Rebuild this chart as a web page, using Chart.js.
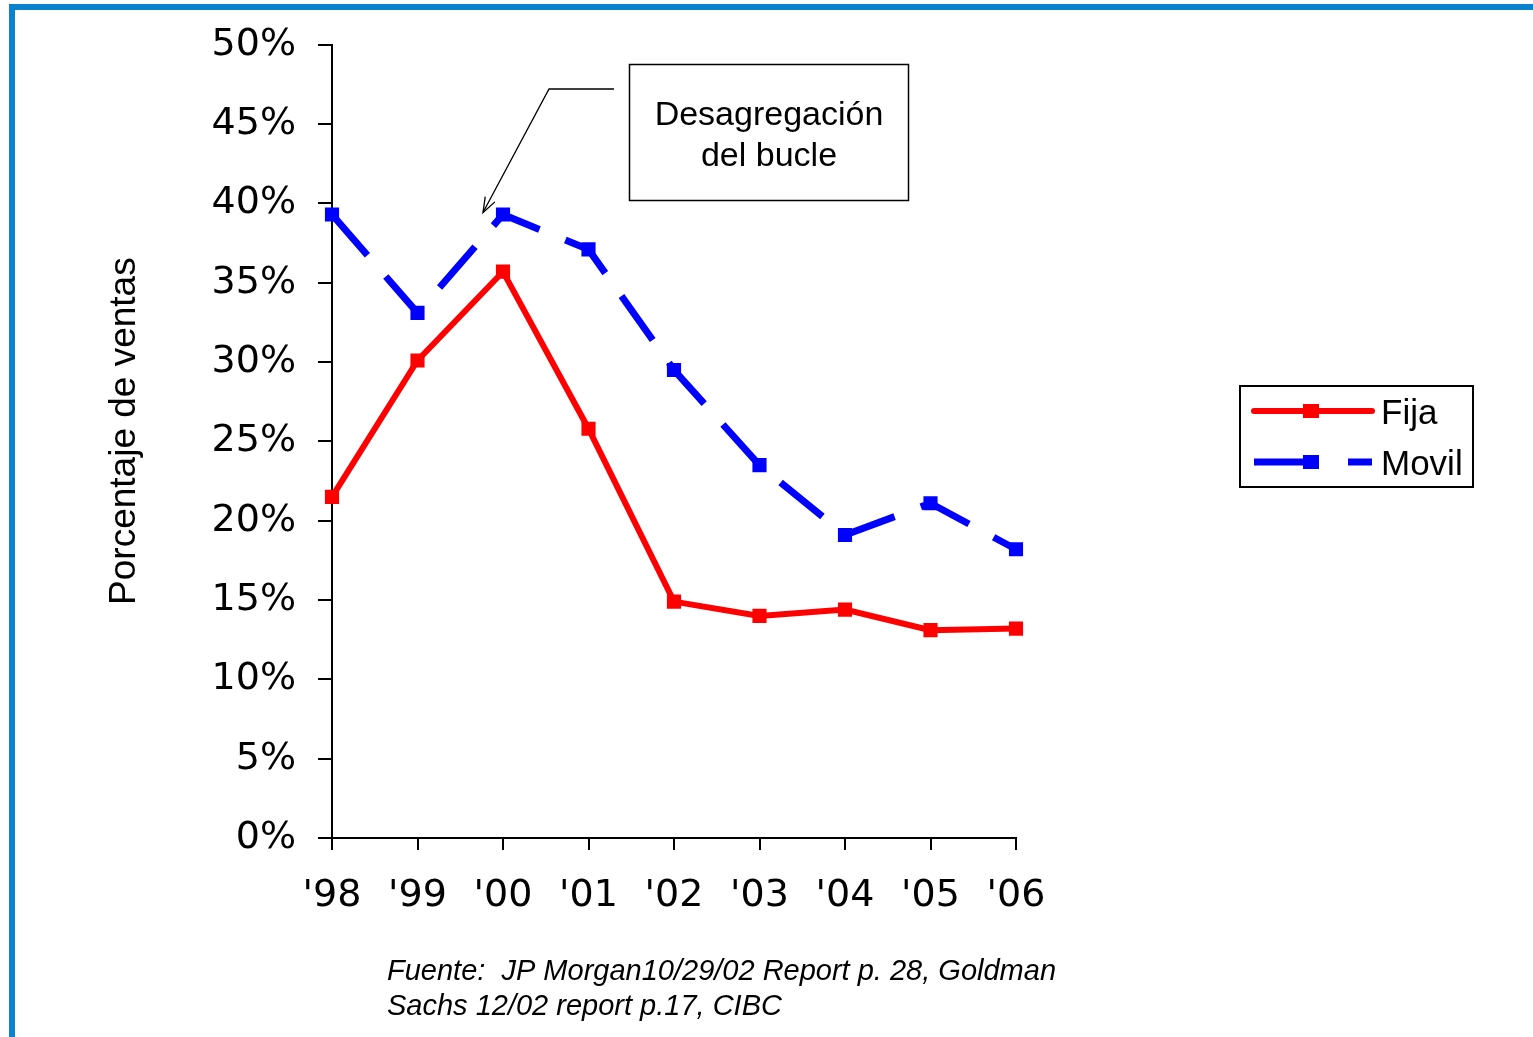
<!DOCTYPE html>
<html>
<head>
<meta charset="utf-8">
<script src="https://cdn.jsdelivr.net/npm/chart.js@4.4.0/dist/chart.umd.min.js"></script>
<style>
  body { margin: 0; background: #fff; }
  canvas { display: block; }
</style>
</head>
<body>
<canvas id="ventasChart" width="1533" height="1037"></canvas>
<script>
// datos
const years = ["'98", "'99", "'00", "'01", "'02", "'03", "'04", "'05", "'06"];
const fija = [21.5, 30.1, 35.7, 25.8, 14.9, 14.0, 14.4, 13.1, 13.2];
const movil = [39.3, 33.1, 39.3, 37.1, 29.5, 23.5, 19.1, 21.1, 18.2];
const yTicks = [0, 5, 10, 15, 20, 25, 30, 35, 40, 45, 50];
const notaLineas = ['Desagregación', 'del bucle'];
const fuenteLineas = ['Fuente:  JP Morgan10/29/02 Report p. 28, Goldman', 'Sachs 12/02 report p.17, CIBC'];

////////////////////// marco, nota, leyenda y fuente //////////////////////
const extras = {
  id: 'extras',
  beforeDraw(chart) {
    const ctx = chart.ctx;
    ctx.save();
    ctx.fillStyle = '#fff';
    ctx.fillRect(0, 0, chart.width, chart.height);
    ctx.fillStyle = '#0a82cf';
    ctx.fillRect(9, 4, chart.width, 6);
    ctx.fillRect(9, 4, 6, chart.height);
    ctx.restore();
  },
  afterDraw(chart) {
    const ctx = chart.ctx;
    const x = chart.scales.x, y = chart.scales.y;
    ctx.save();

    // caja de la nota
    ctx.strokeStyle = '#000';
    ctx.lineWidth = 1.5;
    ctx.strokeRect(629.5, 64.5, 279, 136);
    ctx.fillStyle = '#000';
    ctx.font = '34px "Liberation Sans", Arial, sans-serif';
    ctx.textAlign = 'center';
    ctx.textBaseline = 'alphabetic';
    ctx.fillText(notaLineas[0], 769, 125);
    ctx.fillText(notaLineas[1], 769, 166);

    // flecha hacia el punto '00
    const tipX = x.getPixelForValue(2) - 20;
    const tipY = y.getPixelForValue(movil[2]) - 2;
    ctx.lineWidth = 1.3;
    ctx.beginPath();
    ctx.moveTo(614, 89);
    ctx.lineTo(549, 89);
    ctx.lineTo(tipX, tipY);
    ctx.stroke();
    const ang = Math.atan2(tipY - 89, tipX - 549);
    ctx.beginPath();
    ctx.moveTo(tipX - 16 * Math.cos(ang - 0.35), tipY - 16 * Math.sin(ang - 0.35));
    ctx.lineTo(tipX, tipY);
    ctx.lineTo(tipX - 16 * Math.cos(ang + 0.35), tipY - 16 * Math.sin(ang + 0.35));
    ctx.stroke();

    // leyenda
    ctx.lineWidth = 2;
    ctx.strokeRect(1240, 386, 233, 101);
    const filas = [411, 462];
    chart.data.datasets.forEach(function (ds, i) {
      const ly = filas[i];
      ctx.strokeStyle = ds.borderColor;
      ctx.lineWidth = ds.borderWidth;
      ctx.lineCap = i === 0 ? 'round' : 'butt';
      ctx.setLineDash(i === 0 ? [] : [64, 30]);
      ctx.beginPath();
      ctx.moveTo(1254, ly);
      ctx.lineTo(1372, ly);
      ctx.stroke();
      ctx.setLineDash([]);
      ctx.fillStyle = ds.borderColor;
      ctx.fillRect(1303, ly - 7, 16, 14);
      ctx.fillStyle = '#000';
      ctx.font = '35px "Liberation Sans", Arial, sans-serif';
      ctx.textAlign = 'left';
      ctx.fillText(ds.label, 1381, ly + 13);
    });

    // fuente
    ctx.fillStyle = '#000';
    ctx.font = 'italic 29px "Liberation Sans", Arial, sans-serif';
    ctx.textAlign = 'left';
    ctx.fillText(fuenteLineas[0], 387, 980);
    ctx.fillText(fuenteLineas[1], 387, 1015);
    ctx.restore();
  }
};

document.addEventListener('DOMContentLoaded', function () {
  const canvas = document.getElementById('ventasChart').getContext('2d');
  const chart = new Chart(canvas, {
    type: 'line',
    data: {
      labels: years,
      datasets: [{
        label: 'Fija',
        data: fija,
        borderColor: '#ff0000',
        backgroundColor: '#ff0000',
        borderWidth: 6,
        pointStyle: 'rect',
        pointRadius: 10,
        pointBorderWidth: 0,
        tension: 0
      }, {
        label: 'Movil',
        data: movil,
        borderColor: '#0000ff',
        backgroundColor: '#0000ff',
        borderWidth: 7,
        borderDash: [54, 28],
        pointStyle: 'rect',
        pointRadius: 10,
        pointBorderWidth: 0,
        tension: 0
      }]
    },
    options: {
      responsive: false,
      maintainAspectRatio: false,
      animation: false,
      layout: { padding: { left: 0, right: 517, top: 42, bottom: 0 } },
      plugins: {
        legend: { display: false },
        tooltip: { enabled: false }
      },
      scales: {
        x: {
          offset: false,
          afterFit: function (scale) { scale.height = 199; },
          grid: { drawOnChartArea: false, color: '#000', lineWidth: 2, tickLength: 12 },
          border: { color: '#000', width: 2 },
          ticks: {
            color: '#000',
            padding: 23,
            maxRotation: 0,
            font: { family: '"DejaVu Sans", sans-serif', size: 38 }
          }
        },
        y: {
          min: 0,
          max: 50,
          afterFit: function (scale) { scale.width = 332; },
          afterBuildTicks: function (scale) {
            scale.ticks = yTicks.map(function (v) { return { value: v }; });
          },
          grid: { drawOnChartArea: false, color: '#000', lineWidth: 2, tickLength: 14 },
          border: { color: '#000', width: 2 },
          ticks: {
            color: '#000',
            padding: 22,
            callback: function (v) { return v + '%'; },
            font: { family: '"DejaVu Sans", sans-serif', size: 38 }
          },
          title: {
            display: true,
            text: '  Porcentaje de ventas',
            color: '#000',
            padding: { top: 103, bottom: 0 },
            font: { family: '"Liberation Sans", Arial, sans-serif', size: 37 }
          }
        }
      }
    },
    plugins: [extras]
  });
});
</script>
</body>
</html>
